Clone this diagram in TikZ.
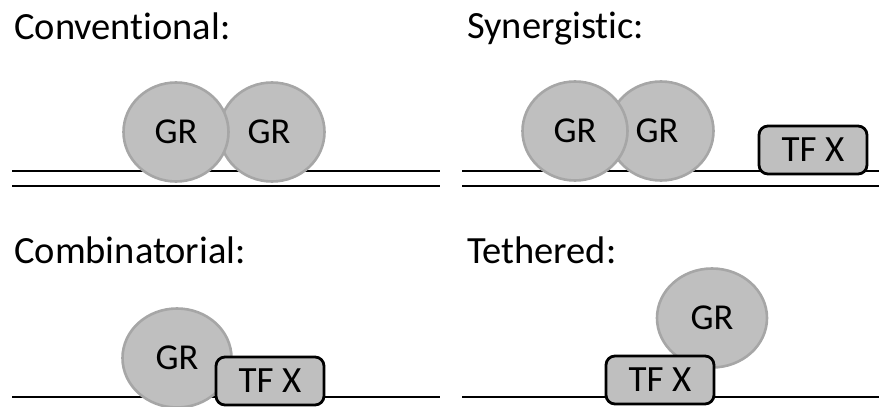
\documentclass[tikz,border=0pt]{standalone}
\usepackage{fontspec}
\setmainfont{Carlito}[Ligatures=NoCommon]
\usetikzlibrary{shapes.geometric}
\definecolor{grfill}{HTML}{BFBFBF}
\definecolor{grline}{HTML}{A6A6A6}
\tikzset{
  dna/.style={line width=1.6pt, black},
  title/.style={anchor=base west, inner sep=0pt, font=\fontsize{38.5}{40}\selectfont},
  grc/.style={ellipse, draw=grline, fill=grfill, line width=2.6pt, minimum width=105pt, minimum height=99pt, inner sep=0pt, font=\fontsize{36.5}{38}\selectfont},
  tfx/.style={rectangle, rounded corners=9pt, draw=black, fill=grfill, line width=2.8pt, minimum width=108pt, minimum height=48pt, inner sep=0pt, font=\fontsize{37}{38}\selectfont},
}
\begin{document}
\begin{tikzpicture}[x=1pt,y=-1pt]
\useasboundingbox (0,0) rectangle (879,407);
% titles
\node[title] (t1) at (14,39) {Conventional:};
\node[title] (t2) at (467,38) {Synergistic:};
\node[title] (t3) at (14,263) {Combinatorial:};
\node[title] (t4) at (467,263) {Tethered:};
% DNA lines
\coordinate (a1) at (12,171); \coordinate (a2) at (440,171);
\coordinate (b1) at (12,186); \coordinate (b2) at (440,186);
\coordinate (c1) at (462,171); \coordinate (c2) at (879,171);
\coordinate (d1) at (462,186); \coordinate (d2) at (879,186);
\coordinate (e1) at (12,397); \coordinate (e2) at (440,397);
\coordinate (f1) at (462,397); \coordinate (f2) at (879,397);
\draw[dna] (a1) -- (a2); \draw[dna] (b1) -- (b2);
\draw[dna] (c1) -- (c2); \draw[dna] (d1) -- (d2);
\draw[dna] (e1) -- (e2); \draw[dna] (f1) -- (f2);
% Conventional
\node[grc] (cgr2) at (272,132) {\hspace*{-6pt}GR};
\node[grc] (cgr1) at (176,132) {GR};
% Synergistic
\node[grc] (sgr2) at (661,131) {\hspace*{-8pt}GR};
\node[grc] (sgr1) at (575,131) {GR};
\node[tfx] (stf) at (813,150) {TF X};
% Combinatorial
\node[grc, minimum width=109pt] (kgr) at (177,358) {\raisebox{-3pt}{GR}};
\node[tfx] (ktf) at (270,381) {TF X};
% Tethered
\node[grc, minimum width=110pt] (tgr) at (712,318) {GR};
\node[tfx] (ttf) at (660,380) {TF X};
\end{tikzpicture}
\end{document}
